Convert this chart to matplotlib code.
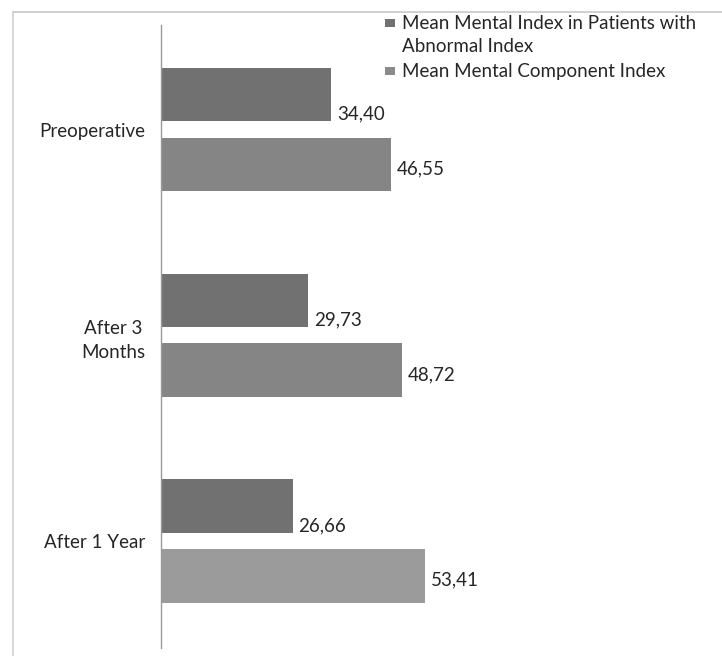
import matplotlib
matplotlib.use("Agg")
import matplotlib.pyplot as plt
from matplotlib.patches import Rectangle
from matplotlib.lines import Line2D
import numpy as np

categories = ["Preoperative", "After 3\nMonths", "After 1 Year"]
abnormal = [34.40, 29.73, 26.66]
component = [46.55, 48.72, 53.41]
series_names = ["Mean Mental Index in Patients with\nAbnormal Index",
                "Mean Mental Component Index"]

plt.rcParams['font.family'] = ['Lato', 'DejaVu Sans']
FS = 13.5
TXT = "#262626"

fig = plt.figure(figsize=(7.22, 6.56), dpi=100)
ax = fig.add_axes([161/722, 1-648/656, 297/722, 623/656])

y = np.arange(len(categories))
h = 0.26
off = 0.17
dark = "#717171"
light_cols = ["#858585", "#858585", "#9b9b9b"]

b1 = ax.barh(y - off, abnormal, height=h, color=dark)
b2 = ax.barh(y + off, component, height=h, color=light_cols)

for rect, v in zip(b1, abnormal):
    ax.annotate(f"{v:.2f}".replace(".", ","), (rect.get_width(), rect.get_y() + rect.get_height()/2),
                xytext=(4, -14), textcoords="offset points", va="center", ha="left",
                fontsize=FS, color=TXT, annotation_clip=False)
for rect, v in zip(b2, component):
    ax.annotate(f"{v:.2f}".replace(".", ","), (rect.get_width(), rect.get_y() + rect.get_height()/2),
                xytext=(4, -3), textcoords="offset points", va="center", ha="left",
                fontsize=FS, color=TXT, annotation_clip=False)

ax.set_xlim(0, 60)
ax.set_ylim(2.52, -0.508)
ax.set_yticks(y)
ax.set_yticklabels(categories, fontsize=FS, color=TXT, multialignment="center", linespacing=1.5)
ax.tick_params(axis='y', length=0, pad=11)
ax.set_xticks([])
for s in ["top", "right", "bottom"]:
    ax.spines[s].set_visible(False)
ax.spines["left"].set_color("#9a9a9a")
ax.spines["left"].set_linewidth(1.0)
ax.set_facecolor("none")

# legend drawn manually (marker aligned with first line of each label)
leg_cols = [dark, "#8a8a8a"]
leg_y = [23, 71]
for name, col, ly in zip(series_names, leg_cols, leg_y):
    fig.add_artist(Rectangle((385/722, 1-(ly+4)/656), 10/722, 8/656,
                             transform=fig.transFigure, facecolor=col, edgecolor="none"))
    fig.text(402/722, 1-(ly-8)/656, name, fontsize=FS, color=TXT, va="top", ha="left",
             linespacing=1.4)

# scanned frame lines
fig.add_artist(Line2D([13/722, 1], [1-12/656, 1-12/656], transform=fig.transFigure,
                      color="#c8c8c8", linewidth=1.2))
fig.add_artist(Line2D([13/722, 13/722], [0, 1-12/656], transform=fig.transFigure,
                      color="#d0d0d0", linewidth=1.2))

fig.savefig("out.png", dpi=100)
